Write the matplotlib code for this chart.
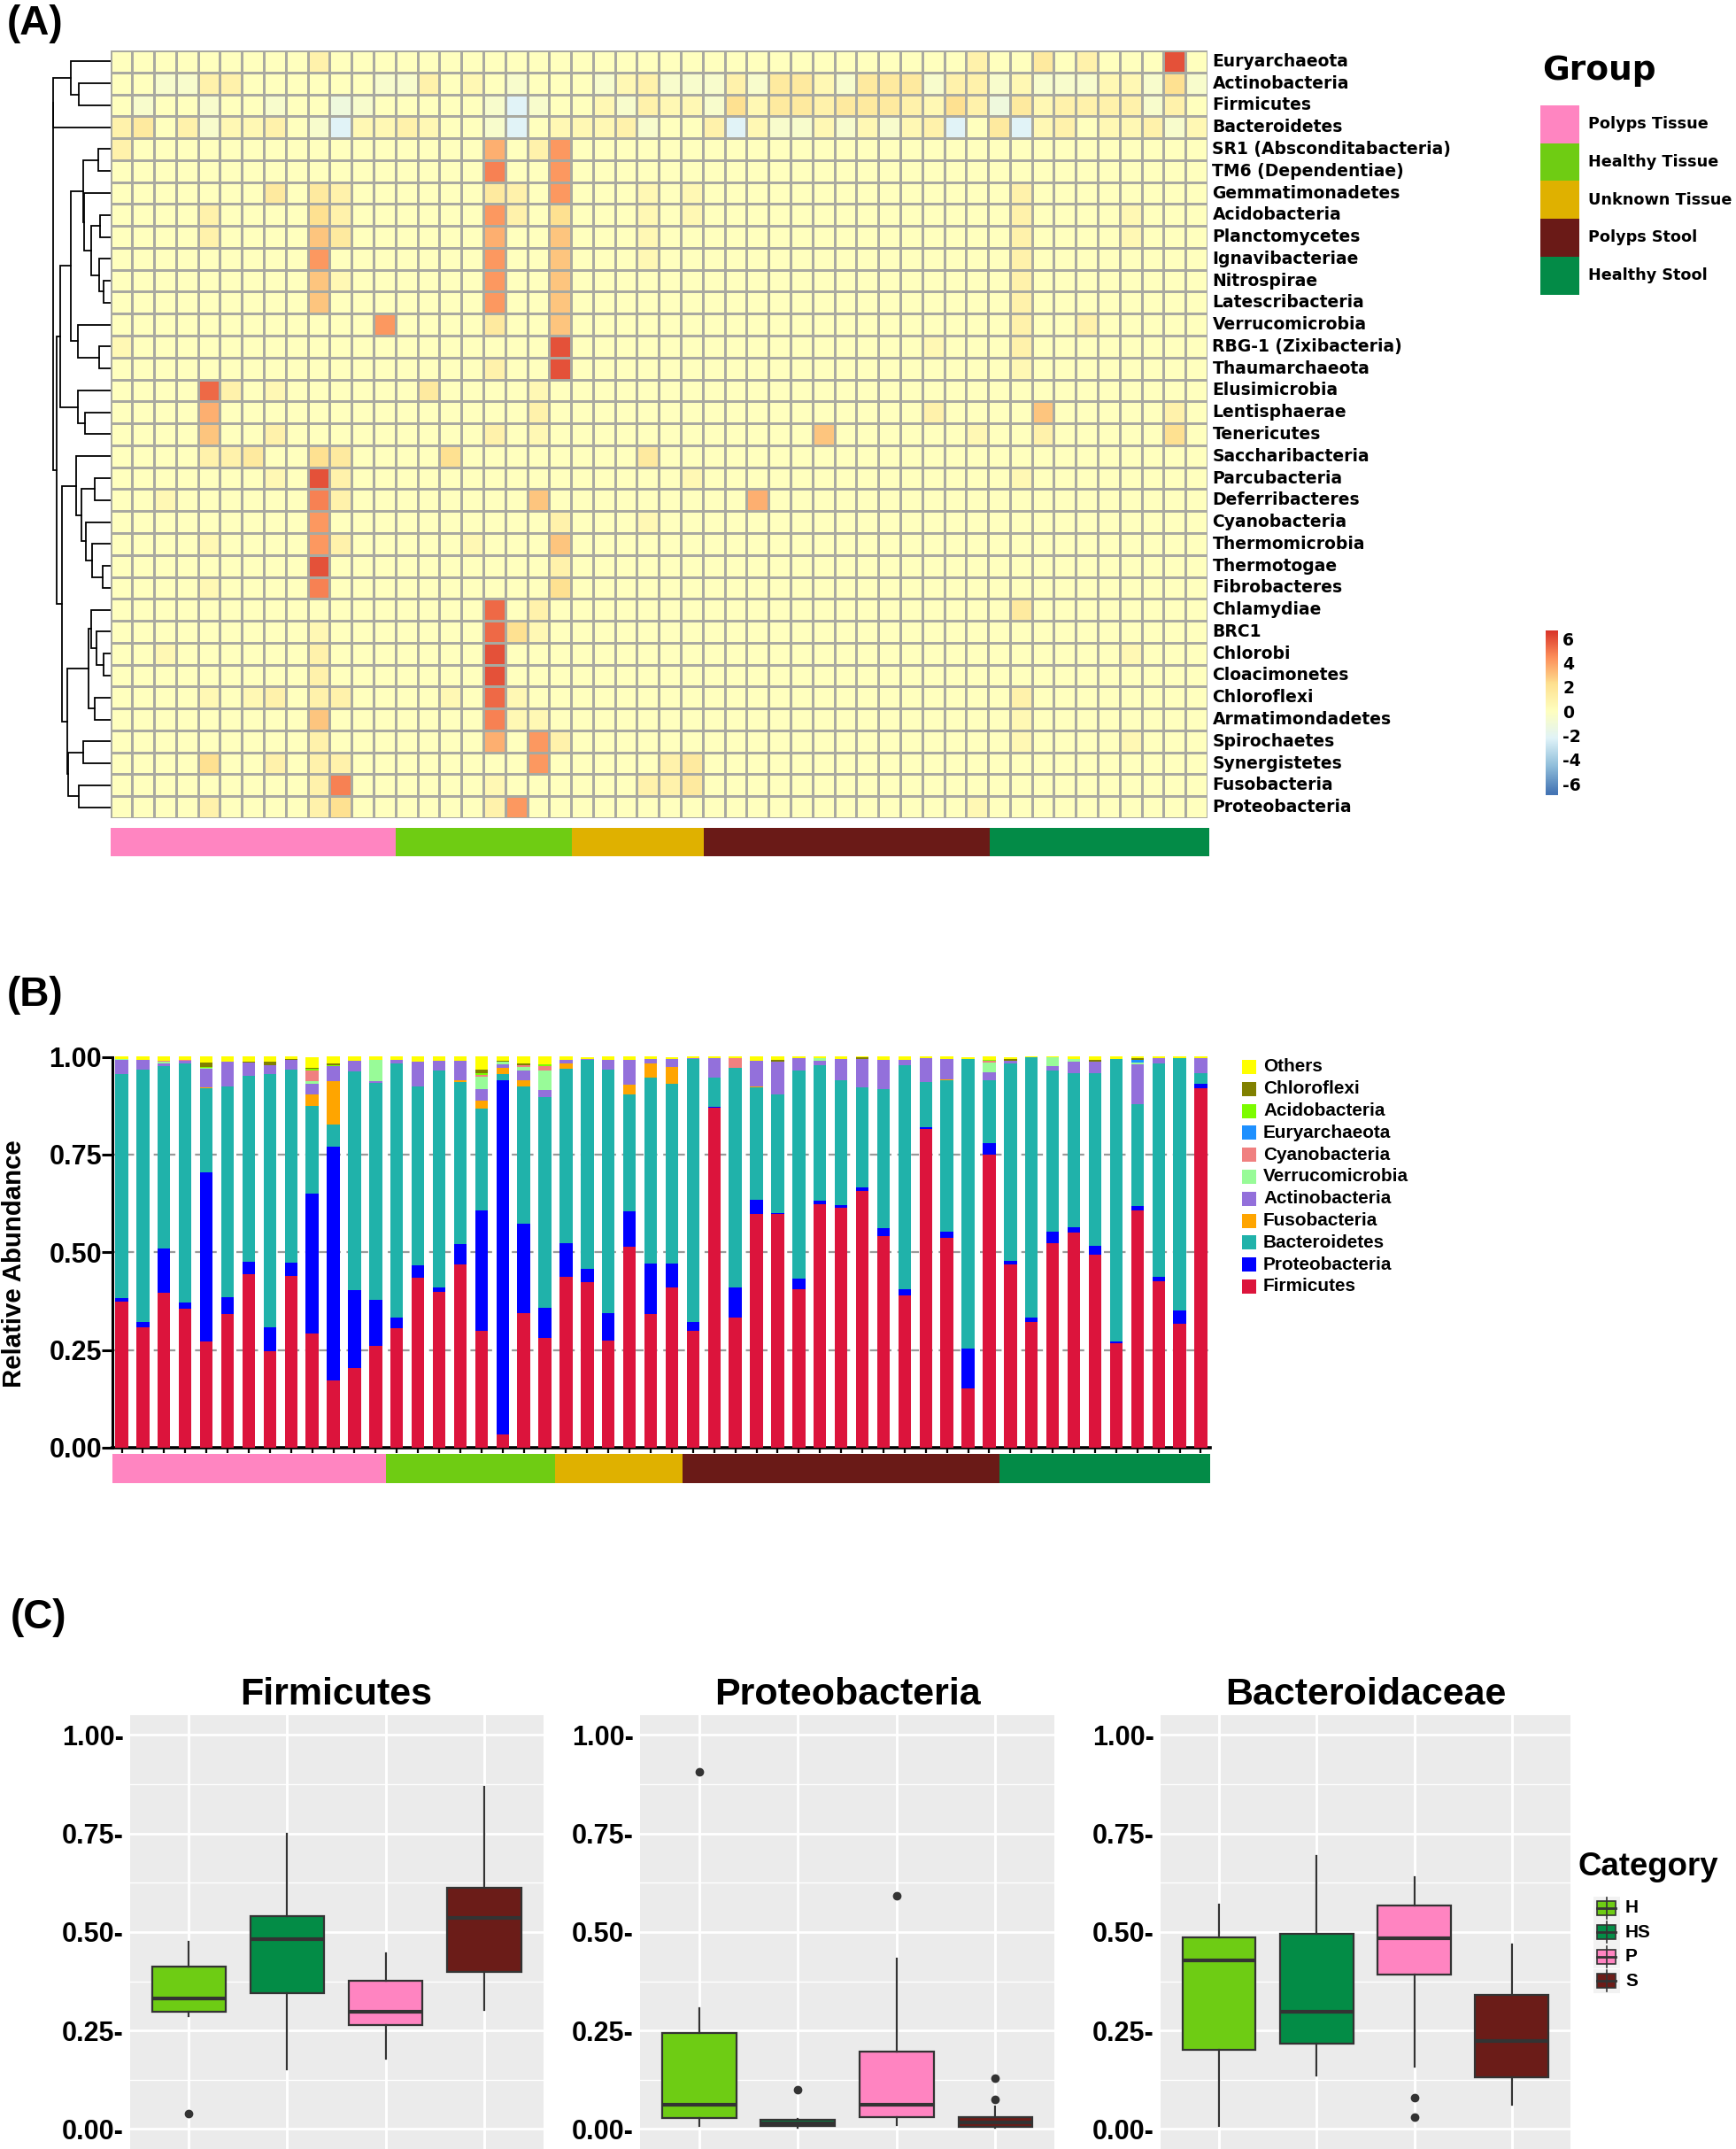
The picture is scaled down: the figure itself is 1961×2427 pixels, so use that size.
import numpy as np
import matplotlib
matplotlib.use('Agg')
import matplotlib.pyplot as plt
from matplotlib.colors import LinearSegmentedColormap, Normalize
from matplotlib.patches import Rectangle
from matplotlib import font_manager

# ===================== DATA =====================
# ---- Panel A: heatmap (rows = phyla) ----
phyla = ["Euryarchaeota", "Actinobacteria", "Firmicutes", "Bacteroidetes",
         "SR1 (Absconditabacteria)", "TM6 (Dependentiae)", "Gemmatimonadetes",
         "Acidobacteria", "Planctomycetes", "Ignavibacteriae", "Nitrospirae",
         "Latescribacteria", "Verrucomicrobia", "RBG-1 (Zixibacteria)",
         "Thaumarchaeota", "Elusimicrobia", "Lentisphaerae", "Tenericutes",
         "Saccharibacteria", "Parcubacteria", "Deferribacteres", "Cyanobacteria",
         "Thermomicrobia", "Thermotogae", "Fibrobacteres", "Chlamydiae", "BRC1",
         "Chlorobi", "Cloacimonetes", "Chloroflexi", "Armatimondadetes",
         "Spirochaetes", "Synergistetes", "Fusobacteria", "Proteobacteria"]

# z-score level codes
level_values = {'B': -2.2, 'b': -1.2, 'g': -0.5, '0': 0.0, '1': 0.5, '2': 1.0,
                '3': 1.5, '4': 2.2, '5': 3.0, '6': 3.6, '7': 4.2, '8': 4.8,
                '9': 5.4, 'X': 6.0}
heat_codes = [
    "0000000002" "0000000000" "0000000000" "0000000002" "00302000X0",
    "00gg220000" "00gg2010g0" "00g12ggg2g" "331g333g22" "g1ggg11g4g",
    "0g00g00g00" "bg00000gBg" "001g211g41" "3323332142" "b312222g20",
    "2302g1120g" "B112100gB0" "1112g002B1" "gg1g1g12B0" "3B120112g1",
    "2000000000" "0000000602" "7000000000" "0000000000" "0000000000",
    "0000000000" "0000000800" "7000000000" "0000000000" "0000000000",
    "0000000303" "2000000320" "7000101000" "0000000000" "0200000000",
    "0000200004" "2000000720" "4000101000" "0000000000" "0200001000",
    "0000200005" "3000000600" "5000100000" "0000000000" "0200001000",
    "0000000007" "0000000700" "5000100000" "0000000000" "0200000000",
    "0000000005" "1000000700" "5000000000" "0000000000" "0200000000",
    "0000000005" "0000000700" "5000000000" "0000000000" "0200000000",
    "0000000000" "0070000300" "5000000000" "0000000000" "0200200000",
    "1000000000" "0000000000" "X000000000" "0000000100" "0200000000",
    "0000000000" "0000000200" "X000000000" "0000000000" "0100000000",
    "0000920100" "0000300001" "0000000000" "0000000000" "0000000000",
    "0000600000" "0000000002" "0000000000" "0000000200" "0050000020",
    "0000500200" "0000000201" "0000000000" "0050000001" "0020000040",
    "0000223004" "3000040000" "0000300000" "0000000000" "0000000000",
    "000000010X" "2000000000" "0000001000" "0000000000" "0100000000",
    "0010000008" "2000000005" "0000000006" "0000000000" "0000000000",
    "0000000007" "0000000000" "2000100000" "0000000000" "0000000000",
    "0000100007" "2000001000" "5000000000" "0000000000" "0000000000",
    "000000000X" "0000000000" "2000000000" "0000000000" "0000000000",
    "0000100008" "0000000000" "4000000000" "0000000000" "0000000000",
    "0000000000" "0000000902" "0000000000" "0000000000" "0300000000",
    "0000000001" "0000000941" "0000000000" "0000000000" "0000000000",
    "0010000002" "0000000X00" "0000000000" "0000000000" "0000001000",
    "0000000002" "0000000X00" "0000000000" "0000000000" "0000000000",
    "0000101202" "2000010910" "0000000000" "0000000000" "0200000000",
    "0000000005" "0000000811" "0000000000" "0000000000" "0100000000",
    "0000000002" "0000000607" "2000000000" "0000000000" "0100001000",
    "0000400202" "2000000007" "0000023000" "0000000000" "0000000000",
    "0000000002" "8000000100" "0000223000" "0000000000" "0000000000",
    "0000200002" "4000000270" "0000000000" "0000000001" "0000000000",
]

# row dendrogram: (left, right, merge height)
row_tree = (
    ((0, (1, 2, 35.5), 45.0), 3, 64.5),
    (
        ((((4, 5, 14.0), (6, ((7, 8, 11.5), (9, (10, 11, 7.5), 12.5), 21.5), 29.5), 31.0),
          (12, (13, 14, 12.5), 36.5), 44.5),
         (15, (16, 17, 28.5), 36.5), 56.5),
        ((18, ((19, 20, 17.5), (21, (22, (23, 24, 8.5), 20.5), 27.5), 32.5), 38.5),
         (((25, (26, (27, 28, 7.5), 15.5), 21.5), (29, 30, 17.5), 24.5),
          ((31, 32, 30.5), (33, 34, 35.5), 47.5), 48.5), 54.5),
        60.5),
    65.0)

group_names = ["Polyps Tissue", "Healthy Tissue", "Unknown Tissue", "Polyps Stool", "Healthy Stool"]
group_colors = ["#FF85C1", "#6FCC13", "#DFB100", "#6A1A17", "#038B47"]
heat_group_sizes = [13, 8, 6, 13, 10]
bar_group_sizes = [13, 8, 6, 15, 10]

# ---- Panel B: relative abundance per sample ----
firmicutes = [.373, .309, .396, .355, .271, .342, .443, .247, .440, .293,
              .172, .203, .260, .305, .436, .399, .469, .299, .035, .345,
              .281, .438, .423, .273, .515, .341, .410, .300, .869, .334,
              .597, .597, .406, .623, .613, .657, .541, .389, .815, .537,
              .152, .749, .469, .322, .523, .550, .494, .268, .607, .425,
              .318, .920]
proteobacteria = [.009, .013, .114, .016, .433, .044, .033, .062, .033, .357,
                  .597, .200, .119, .027, .031, .010, .052, .309, .906, .228,
                  .076, .085, .035, .071, .090, .130, .061, .021, .004, .076,
                  .038, .004, .027, .010, .008, .010, .020, .017, .005, .016,
                  .102, .031, .009, .011, .030, .015, .023, .004, .012, .013,
                  .032, .012]
bacteroidetes = [.574, .645, .466, .613, .215, .538, .476, .647, .494, .225,
                 .057, .560, .554, .652, .456, .556, .415, .260, .015, .350,
                 .541, .447, .534, .624, .298, .475, .461, .674, .074, .562,
                 .286, .302, .533, .346, .318, .254, .356, .573, .115, .388,
                 .740, .161, .504, .665, .413, .393, .441, .723, .260, .545,
                 .646, .026]
fusobacteria = [0, 0, 0, 0, .003, 0, 0, 0, 0, .029,
                .111, 0, 0, 0, 0, 0, .003, .021, .016, .016,
                0, .013, 0, 0, .026, .037, .042, 0, 0, 0,
                .004, 0, 0, 0, 0, 0, 0, 0, 0, .002,
                0, 0, 0, 0, 0, 0, 0, 0, 0, 0,
                0, 0]
actinobacteria = [.037, .024, .008, .006, .047, .063, .033, .022, .026, .026,
                  .039, .027, .004, .008, .064, .025, .051, .028, .009, .026,
                  .018, .010, .002, .025, .063, .012, .020, .002, .050, 0,
                  .065, .085, .030, .011, .055, .073, .075, .014, .061, .051,
                  0, .020, .008, 0, .010, .030, .030, 0, .102, .013,
                  0, .038]
verrucomicrobia = [.002, 0, .003, 0, .002, 0, 0, 0, 0, .007,
                   0, 0, .056, 0, 0, 0, 0, .031, .006, .010,
                   .048, 0, 0, 0, 0, 0, 0, 0, 0, 0,
                   0, 0, 0, .006, 0, 0, 0, 0, 0, 0,
                   0, .025, 0, 0, .022, .006, 0, 0, .004, 0,
                   0, 0]
cyanobacteria = [0, 0, .003, .002, 0, 0, 0, 0, 0, .028,
                 0, 0, 0, 0, 0, 0, 0, .005, 0, .003,
                 .012, 0, 0, 0, 0, 0, 0, 0, 0, .024,
                 0, 0, 0, 0, 0, 0, 0, 0, 0, 0,
                 0, .003, 0, 0, 0, 0, 0, 0, 0, 0,
                 0, 0]
euryarchaeota = [0, 0, 0, 0, 0, 0, 0, 0, 0, 0,
                 0, 0, 0, 0, 0, 0, 0, 0, 0, 0,
                 0, 0, 0, 0, 0, 0, 0, 0, 0, 0,
                 0, 0, 0, 0, 0, 0, 0, 0, 0, 0,
                 0, 0, 0, 0, 0, 0, 0, 0, .008, 0,
                 0, 0]
acidobacteria = [0, 0, 0, 0, .003, 0, 0, 0, 0, .004,
                 .003, 0, 0, 0, 0, 0, 0, .004, 0, 0,
                 .004, 0, 0, 0, 0, 0, 0, 0, 0, 0,
                 0, 0, 0, 0, 0, 0, 0, 0, 0, 0,
                 0, .002, 0, 0, 0, 0, 0, 0, 0, 0,
                 0, 0]
chloroflexi = [0, 0, 0, 0, .012, 0, .003, .010, .002, .003,
               .004, 0, 0, 0, 0, 0, 0, .010, .003, .005,
               0, 0, 0, 0, 0, 0, 0, 0, 0, 0,
               0, .005, 0, 0, 0, .004, 0, 0, 0, 0,
               0, 0, .004, 0, 0, 0, .004, 0, .003, 0,
               0, 0]
others = [.005, .009, .010, .008, .014, .013, .012, .012, .005, .028,
          .017, .010, .007, .008, .013, .010, .010, .033, .010, .017,
          .020, .007, .006, .007, .008, .005, .006, .003, .003, .004,
          .010, .007, .004, .004, .006, .002, .008, .007, .004, .006,
          .006, .009, .006, .002, .002, .006, .008, .005, .004, .004,
          .004, .004]

stack_names = ["Firmicutes", "Proteobacteria", "Bacteroidetes", "Fusobacteria",
               "Actinobacteria", "Verrucomicrobia", "Cyanobacteria", "Euryarchaeota",
               "Acidobacteria", "Chloroflexi", "Others"]
stack_values = [firmicutes, proteobacteria, bacteroidetes, fusobacteria, actinobacteria,
                verrucomicrobia, cyanobacteria, euryarchaeota, acidobacteria, chloroflexi, others]
stack_colors = ["#DC143C", "#0000FF", "#20B2AA", "#FFA500", "#9370DB", "#98FB98",
                "#F08080", "#1E90FF", "#7CFC00", "#808000", "#FFFF00"]

# ---- Panel C: box plot summaries (whislo, q1, median, q3, whishi) ----
box_categories = ["H", "HS", "P", "S"]
box_colors = ["#6ECC14", "#038C46", "#FF84C1", "#6B1C18"]
firm_lo = [.286, .151, .179, .301]
firm_q1 = [.297, .344, .264, .399]
firm_med = [.332, .482, .298, .536]
firm_q3 = [.413, .541, .376, .613]
firm_hi = [.476, .749, .445, .868]
firm_out = [[.040], [], [], []]
prot_lo = [.007, .003, .010, .003]
prot_q1 = [.027, .007, .031, .006]
prot_med = [.061, .015, .061, .017]
prot_q3 = [.244, .024, .197, .031]
prot_hi = [.306, .026, .432, .058]
prot_out = [[.907], [.100], [.593], [.074, .128]]
bact_lo = [.007, .135, .158, .061]
bact_q1 = [.200, .216, .392, .131]
bact_med = [.427, .297, .485, .223]
bact_q3 = [.487, .496, .567, .341]
bact_hi = [.570, .694, .638, .468]
bact_out = [[], [], [.079, .031], []]

# ===================== FIGURE =====================
W, H = 1961, 2427
fig = plt.figure(figsize=(W / 100, H / 100), dpi=100)

_names = {f.name for f in font_manager.fontManager.ttflist}
HAS_NARROW = 'Liberation Sans Narrow' in _names
NARROW = 'Liberation Sans Narrow' if HAS_NARROW else 'Liberation Sans'


def nsz(s):
    return s if HAS_NARROW else s * 0.88


def ax_px(x0, y0, x1, y1):
    return fig.add_axes([x0 / W, 1 - y1 / H, (x1 - x0) / W, (y1 - y0) / H])


# ---------------- Panel A ----------------
heat = np.array([[level_values[c] for c in row] for row in heat_codes])
cmap = LinearSegmentedColormap.from_list(
    'rdylbu_r', ['#4575B4', '#91BFDB', '#E0F3F8', '#FFFFBF', '#FEE090', '#FC8D59', '#D73027'])
norm = Normalize(-6.8, 6.8)

axh = ax_px(124.5, 57, 1364, 924)
axh.pcolormesh(np.arange(heat.shape[1] + 1), np.arange(heat.shape[0] + 1), heat,
               cmap=cmap, norm=norm, edgecolors='#A9A9A0', linewidth=1.0)
axh.set_xlim(0, heat.shape[1])
axh.set_ylim(heat.shape[0], 0)
axh.axis('off')
for i, name in enumerate(phyla):
    axh.text(heat.shape[1] + 0.22, i + 0.5, name, ha='left', va='center',
             fontsize=13.5, fontweight='bold', family='DejaVu Sans')

# dendrogram
axd = ax_px(50, 57, 124.5, 924)


def draw_tree(ax, node):
    if isinstance(node, int):
        return node + 0.5, 0.0
    left, right, h = node
    yl, hl = draw_tree(ax, left)
    yr, hr = draw_tree(ax, right)
    ax.plot([hl, h, h, hr], [yl, yl, yr, yr], color='black', lw=1.3,
            solid_joinstyle='miter')
    return (yl + yr) / 2.0, h


draw_tree(axd, row_tree)
axd.set_xlim(74.5, 0)
axd.set_ylim(len(phyla), 0)
axd.axis('off')

# group annotation bar (A)
axga = ax_px(124.5, 935, 1366, 967)
start = 0
for n, c in zip(heat_group_sizes, group_colors):
    axga.broken_barh([(start, n)], (0, 1), facecolors=c, edgecolor='none')
    start += n
axga.set_xlim(0, sum(heat_group_sizes))
axga.set_ylim(0, 1)
axga.axis('off')

# colorbar
axc = ax_px(1745.5, 712, 1759.5, 898)
grad = np.linspace(6.66, -6.95, 256).reshape(-1, 1)
axc.imshow(grad, aspect='auto', cmap=cmap, norm=norm, extent=[0, 1, -6.95, 6.66])
axc.set_xlim(0, 1)
axc.set_ylim(-6.95, 6.66)
axc.set_xticks([])
axc.yaxis.tick_right()
axc.set_yticks([-6, -4, -2, 0, 2, 4, 6])
axc.set_yticklabels(['-6', '-4', '-2', '0', '2', '4', '6'],
                    fontsize=13.5, fontweight='bold', family='DejaVu Sans')
axc.tick_params(axis='y', length=0, pad=4)
for s in axc.spines.values():
    s.set_visible(False)

# ---------------- Panel B ----------------
axb = ax_px(127, 1193.5, 1367, 1635)
xs = np.arange(len(firmicutes))
bottom = np.zeros(len(firmicutes))
for vals, col in zip(stack_values, stack_colors):
    v = np.array(vals, dtype=float)
    axb.bar(xs, v, 0.6, bottom=bottom, color=col, linewidth=0, zorder=3)
    bottom += v
for gy in [0.25, 0.5, 0.75]:
    axb.axhline(gy, color='#9A9A9A', lw=1.6, ls=(0, (4, 3)), zorder=1)
axb.set_xlim(-0.44, len(firmicutes) - 0.56)
axb.set_ylim(0, 1)
for side in ['top', 'right']:
    axb.spines[side].set_visible(False)
axb.spines['left'].set_linewidth(2.2)
axb.spines['bottom'].set_linewidth(2.6)
axb.set_yticks([0, 0.25, 0.5, 0.75, 1.0])
axb.set_yticklabels(['0.00', '0.25', '0.50', '0.75', '1.00'], fontsize=nsz(25),
                    fontweight='bold', family=NARROW)
axb.tick_params(axis='y', length=8.5, width=2.2, color='black', pad=0)
axb.set_xticks(xs)
axb.tick_params(axis='x', length=4, width=1.6, color='black', labelbottom=False)
axb.set_ylabel('Relative Abundance', fontsize=nsz(24), fontweight='bold', family=NARROW)
axb.yaxis.set_label_coords((30 - 127) / 1240, 0.47)

axgb = ax_px(127, 1642, 1367, 1675)
start = 0
for n, c in zip(bar_group_sizes, group_colors):
    axgb.broken_barh([(start - 0.5, n)], (0, 1), facecolors=c, edgecolor='none')
    start += n
axgb.set_xlim(-0.44, sum(bar_group_sizes) - 0.56)
axgb.set_ylim(0, 1)
axgb.axis('off')

# ---------------- Panel C ----------------


def gg_box(x0, x1, title, lo, q1, med, q3, hi, out):
    ax = ax_px(x0, 1937.15, x1, 2426.65)
    ax.set_facecolor('#EBEBEB')
    ax.set_xlim(0.4, 4.6)
    ax.set_ylim(-0.05, 1.05)
    for s in ax.spines.values():
        s.set_visible(False)
    ax.set_yticks([0, 0.25, 0.5, 0.75, 1.0])
    ax.set_yticklabels(['0.00-', '0.25-', '0.50-', '0.75-', '1.00-'], fontsize=nsz(25),
                       fontweight='bold', family=NARROW)
    ax.set_yticks([0.125, 0.375, 0.625, 0.875], minor=True)
    ax.set_xticks([1, 2, 3, 4])
    ax.tick_params(axis='both', which='both', length=0)
    ax.tick_params(axis='x', labelbottom=False)
    ax.tick_params(axis='y', pad=5)
    ax.grid(True, which='major', color='white', lw=2.0)
    ax.grid(True, which='minor', axis='y', color='white', lw=1.0)
    ax.set_axisbelow(True)
    stats = []
    for i in range(4):
        stats.append(dict(whislo=lo[i], q1=q1[i], med=med[i], q3=q3[i], whishi=hi[i],
                          fliers=np.array(out[i], dtype=float)))
    bp = ax.bxp(stats, positions=[1, 2, 3, 4], widths=0.75, patch_artist=True,
                showcaps=False, showfliers=True,
                boxprops=dict(edgecolor='#333333', linewidth=1.6),
                medianprops=dict(color='#333333', linewidth=3.0),
                whiskerprops=dict(color='#333333', linewidth=1.6),
                flierprops=dict(marker='o', markerfacecolor='#333333',
                                markeredgecolor='#333333', markersize=6))
    for patch, c in zip(bp['boxes'], box_colors):
        patch.set_facecolor(c)
    ax.set_title(title, fontsize=31, fontweight='bold', family='Liberation Sans', pad=9)
    return ax


gg_box(146.5, 613.6, 'Firmicutes', firm_lo, firm_q1, firm_med, firm_q3, firm_hi, firm_out)
gg_box(722.8, 1191.4, 'Proteobacteria', prot_lo, prot_q1, prot_med, prot_q3, prot_hi, prot_out)
gg_box(1310.7, 1774, 'Bacteroidaceae', bact_lo, bact_q1, bact_med, bact_q3, bact_hi, bact_out)

# ---------------- overlay: panel letters and legends ----------------
axf = fig.add_axes([0, 0, 1, 1])
axf.set_xlim(0, W)
axf.set_ylim(H, 0)
axf.axis('off')

for lab, lx, ly in [('(A)', 8, 27), ('(B)', 8, 1124), ('(C)', 12, 1827)]:
    axf.text(lx, ly, lab, ha='left', va='center', fontsize=33, fontweight='bold',
             family='Liberation Sans')

# group legend (A)
axf.text(1742, 80, 'Group', ha='left', va='center', fontsize=27, fontweight='bold',
         family='DejaVu Sans')
for k, (nm, c) in enumerate(zip(group_names, group_colors)):
    y0 = 119 + 42.7 * k
    axf.add_patch(Rectangle((1740, y0), 44, 42.7, facecolor=c, edgecolor='none'))
    axf.text(1794, y0 + 21.3, nm, ha='left', va='center', fontsize=12.7, fontweight='bold',
             family='DejaVu Sans')

# phylum legend (B)
for k, (nm, c) in enumerate(zip(stack_names[::-1], stack_colors[::-1])):
    yc = 1205 + 24.8 * k
    axf.add_patch(Rectangle((1403, yc - 8), 16, 16, facecolor=c, edgecolor='none'))
    axf.text(1427, yc, nm, ha='left', va='center', fontsize=nsz(17), fontweight='bold',
             family=NARROW)

# category legend (C)
axf.text(1782, 2108, 'Category', ha='left', va='center', fontsize=nsz(30), fontweight='bold',
         family=NARROW)
for k, (nm, c) in enumerate(zip(box_categories, box_colors)):
    yc = 2155 + 27.4 * k
    axf.add_patch(Rectangle((1800, yc - 13.5), 30, 27, facecolor='#F2F2F2', edgecolor='none'))
    axf.plot([1814.5, 1814.5], [yc - 12, yc + 12], color='#333333', lw=1.2)
    axf.add_patch(Rectangle((1804, yc - 8), 21, 16, facecolor=c, edgecolor='#333333', lw=1.2))
    axf.plot([1804, 1825], [yc, yc], color='#333333', lw=2.0)
    axf.text(1836, yc, nm, ha='left', va='center', fontsize=nsz(17), fontweight='bold',
             family=NARROW)

fig.savefig('out.png', dpi=100)
